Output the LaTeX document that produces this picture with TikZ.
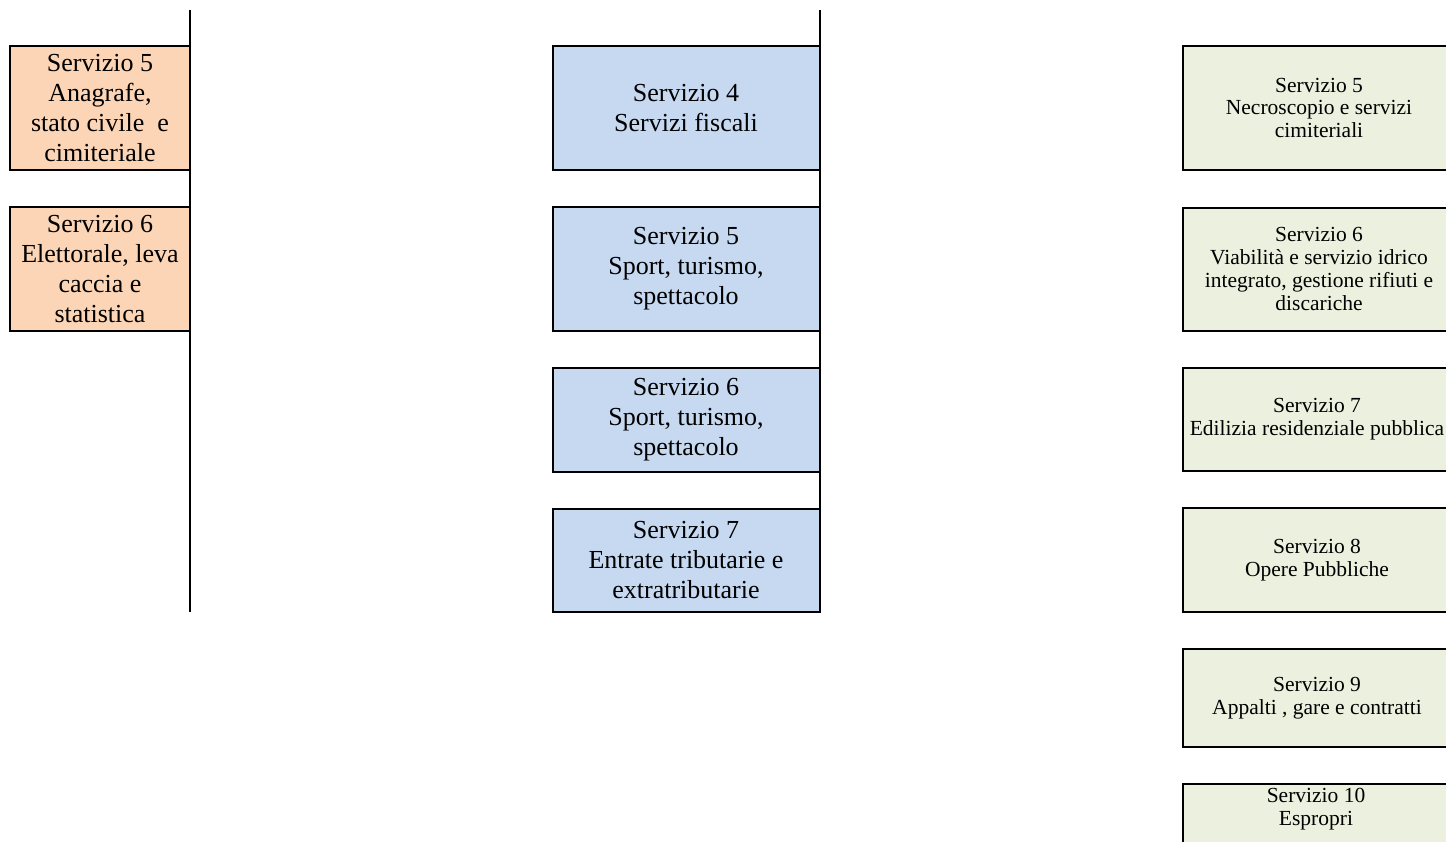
\documentclass[tikz,border=0pt]{standalone}
\usepackage{fontspec}
\setmainfont{Liberation Serif}
\definecolor{orangefill}{HTML}{FBD5B5}
\definecolor{bluefill}{HTML}{C6D9F1}
\definecolor{greenfill}{HTML}{EBF1DE}
\tikzset{
  box/.style={draw=black, line width=2pt, align=center, inner sep=2pt, text=black},
  bigtext/.style={font=\fontsize{26}{30}\selectfont},
  smalltext/.style={font=\fontsize{21.5}{22.8}\selectfont},
  lbox/.style={box, bigtext, fill=orangefill, minimum width=180pt},
  mbox/.style={box, bigtext, fill=bluefill, minimum width=267pt},
  rbox/.style={box, smalltext, fill=greenfill, minimum width=272pt},
  spine/.style={draw=black, line width=2.4pt}
}
\begin{document}
\begin{tikzpicture}[x=1pt, y=-1pt]
\useasboundingbox (0,0) rectangle (1446,841);
\clip (0,0) rectangle (1446,841);
% left column
\node[lbox, minimum height=124pt] (l5) at (100,107.8) {Servizio 5\\Anagrafe,\\stato civile\ \ e\\cimiteriale};
\node[lbox, minimum height=124pt] (l6) at (100,268.8) {Servizio 6\\Elettorale, leva\\caccia e\\statistica};
\coordinate (ltop) at (190,10);
\coordinate (lbot) at (190,611.7);
\draw[spine] (ltop) -- (lbot);
% middle column
\node[mbox, minimum height=124pt] (m4) at (686,107.8) {Servizio 4\\Servizi fiscali};
\node[mbox, minimum height=124pt] (m5) at (686,268.8) {Servizio 5\\Sport, turismo,\\spettacolo};
\node[mbox, minimum height=103.5pt] (m6) at (686,420) {Servizio 6\\Sport, turismo,\\spettacolo};
\node[mbox, minimum height=103pt] (m7) at (686,560.4) {Servizio 7\\Entrate tributarie e\\extratributarie};
\coordinate (mtop) at (820,10);
\coordinate (mbot) at (820,611.7);
\draw[spine] (mtop) -- (mbot);
% right column
\node[rbox, minimum height=124pt] (r5) at (1319,107.8) {Servizio 5\\Necroscopio e servizi\\cimiteriali};
\node[rbox, minimum height=123pt] (r6) at (1319,269) {Servizio 6\\Viabilità e servizio idrico\\integrato, gestione rifiuti e\\discariche};
\node[rbox, minimum height=102.5pt] (r7) at (1319,419.5) {\hspace*{-4pt}Servizio 7\\\hspace*{-4pt}Edilizia residenziale pubblica};
\node[rbox, minimum height=103.5pt] (r8) at (1319,560) {\hspace*{-4pt}Servizio 8\\\hspace*{-4pt}Opere Pubbliche};
\node[rbox, minimum height=97.7pt] (r9) at (1319,697.8) {\hspace*{-4pt}Servizio 9\\\hspace*{-4pt}Appalti , gare e contratti};
\node[rbox, minimum height=103pt, anchor=north] (r10) at (1319,783) {};
\node[smalltext, align=center, inner sep=2pt, anchor=north] (r10t) at (1316,786) {Servizio 10\\Espropri};
\end{tikzpicture}
\end{document}
